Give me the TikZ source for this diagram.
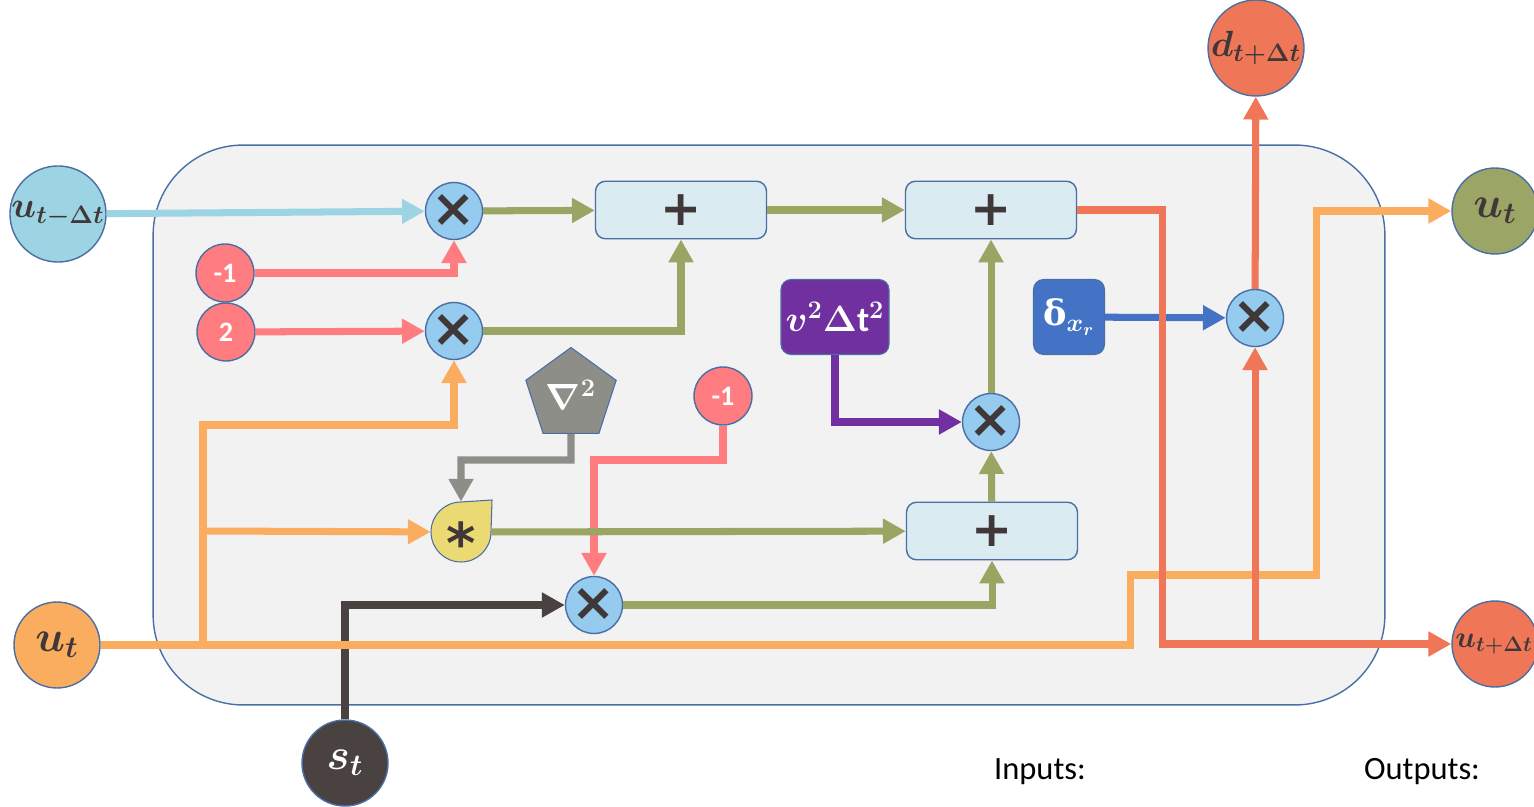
\documentclass[tikz,border=0pt]{standalone}
\usepackage{fontspec}
\setmainfont{Carlito}
\newfontfamily\symfont{DejaVu Sans}
\newfontfamily\greekserif{DejaVu Serif}
\usepackage{amsmath,bm}
\usetikzlibrary{arrows.meta,shapes.geometric,calc}

\definecolor{panelfill}{HTML}{F2F2F2}
\definecolor{edge}{HTML}{4A6FA5}
\definecolor{ink}{HTML}{403838}
\definecolor{inblue}{HTML}{9DD4E3}
\definecolor{constpink}{HTML}{FF7C80}
\definecolor{multblue}{HTML}{95CBEE}
\definecolor{sumfill}{HTML}{DAEBF2}
\definecolor{olive}{HTML}{9BA563}
\definecolor{coral}{HTML}{EF7757}
\definecolor{orng}{HTML}{FBAD5F}
\definecolor{lapgray}{HTML}{8E8E88}
\definecolor{convyellow}{HTML}{EBDA73}
\definecolor{darksrc}{HTML}{4A4141}
\definecolor{velpurple}{HTML}{7030A0}
\definecolor{deltablue}{HTML}{4472C4}
\definecolor{outgreen}{HTML}{9BA565}

\tikzset{
  wire/.style={line width=4pt, -{Triangle[length=13pt,width=13.5pt]}},
  io/.style={circle, draw=edge, line width=0.8pt, minimum size=1.72cm, inner sep=0pt,
    text=ink, font=\fontsize{20}{20}\selectfont},
  bigio/.style={io, font=\fontsize{25}{25}\selectfont},
  mult/.style={circle, draw=edge, line width=0.8pt, fill=multblue, minimum size=1.14cm,
    inner sep=0pt, text=ink, font=\symfont\bfseries\fontsize{30}{30}\selectfont},
  const/.style={circle, draw=edge, line width=0.8pt, fill=constpink, minimum size=1.16cm,
    inner sep=0pt, text=white, font=\bfseries\fontsize{16}{16}\selectfont},
  sumbox/.style={rectangle, rounded corners=0.2cm, draw=edge, line width=0.8pt, fill=sumfill,
    minimum width=3.42cm, minimum height=1.15cm, inner sep=0pt, text=ink,
    font=\symfont\bfseries\fontsize{28}{28}\selectfont},
  parbox/.style={rectangle, rounded corners=0.2cm, draw=edge, line width=0.6pt,
    minimum height=1.5cm, inner sep=0pt, text=white, font=\fontsize{20}{20}\selectfont},
  caption/.style={font=\fontsize{18.5}{18.5}\selectfont, text=black, inner sep=0pt}
}

\begin{document}
\begin{tikzpicture}[x=0.02cm, y=-0.02cm]
\path[use as bounding box, clip] (0,0) rectangle (1534,807);

% cell body
\node[draw=edge, line width=0.8pt, fill=panelfill, rounded corners=1.8cm,
      minimum width=24.64cm, minimum height=11.2cm, inner sep=0pt] (panel) at (769,425) {};

% inputs and outputs
\node[io, fill=inblue] (uprev) at (58,214) {$\bm{u_{t-\Delta t}}$};
\node[bigio, fill=orng] (ucur) at (57,645) {$\bm{u_{t}}$};
\node[bigio, fill=darksrc, text=white] (src) at (345,763) {$\bm{s_{t}}$};
\node[io, fill=coral] (dout) at (1256,48) {$\bm{d_{t+\Delta t}}$};
\node[bigio, fill=outgreen] (uright) at (1495,211) {$\bm{u_{t}}$};
\node[io, fill=coral] (unext) at (1495,644) {};
\node[text=ink, font=\fontsize{18}{18}\selectfont, inner sep=0pt, anchor=east]
  (unexttxt) at (1533,644) {$\bm{u_{t+\Delta t}}$};

% constants
\node[const] (c1) at (225,273) {-1};
\node[const] (c2) at (226,332) {2};
\node[const] (c3) at (723,396) {-1};

% multipliers
\node[mult] (m1) at (454,211) {×};
\node[mult] (m2) at (454,331) {×};
\node[mult] (m3) at (594,605) {×};
\node[mult] (m4) at (991,422) {×};
\node[mult] (m5) at (1255,318) {×};

% adders
\node[sumbox] (p1) at (681,210) {+};
\node[sumbox] (p2) at (991,210) {+};
\node[sumbox] (p3) at (992,531) {+};

% Laplacian operator
\node[regular polygon, regular polygon sides=5, draw=edge, line width=0.6pt, fill=lapgray,
      minimum size=1.9cm, inner sep=0pt, text=white, font=\fontsize{21}{21}\selectfont]
      (lap) at (571,395) {$\bm{\nabla^{2}}$};

% convolution (teardrop)
\node[circle, minimum size=1.2cm, inner sep=0pt] (conv) at (461,532) {};
\draw[draw=edge, line width=0.6pt, fill=convyellow]
  ($(conv.center)+(0,0.6cm)$) -- ++(0.62cm,0.04cm) -- ($(conv.center)+(0.6cm,0)$)
  arc[start angle=0, end angle=-270, radius=0.6cm] -- cycle;
\node[text=ink, font=\symfont\bfseries\fontsize{32}{32}\selectfont, inner sep=0pt]
  (convsym) at ($(conv.center)+(0,-0.22cm)$) {*};

% parameter boxes
\node[parbox, fill=velpurple, minimum width=2.16cm] (vel) at (835,317) {$\bm{v^{2}\Delta\mathrm{t}^{2}}$};
\node[parbox, fill=deltablue, minimum width=1.42cm] (delta) at (1069,317)
  {{\greekserif\bfseries δ}$\bm{_{x_{r}}}$};

% routing points
\coordinate (k1) at (1162,210);
\coordinate (j1) at (1255,644);
\coordinate (o1) at (1130,645);
\coordinate (o2) at (1316,575);
\coordinate (b1) at (203,645);
\coordinate (b2) at (203,425);
\coordinate (b3) at (203,531);
\coordinate (g1) at (571,460);
\coordinate (r1) at (723,460);
\coordinate (s1) at (345,605);

% connectors
\draw[wire, inblue] (uprev) -- (m1);
\draw[wire, constpink] (c1) -| (m1);
\draw[wire, constpink] (c2) -- (m2);
\draw[wire, olive] (m1) -- (p1);
\draw[wire, olive] (m2) -| (p1);
\draw[wire, olive] (p1) -- (p2);
\draw[wire, lapgray] (lap.south) -- (g1) -| (conv);
\draw[wire, constpink] (c3) -- (r1) -| (m3);
\draw[wire, olive] (conv) -- (p3);
\draw[wire, darksrc] (src) -- (s1) -- (m3);
\draw[wire, olive] (m3) -| (p3);
\draw[wire, olive] (p3) -- (m4);
\draw[wire, velpurple] (vel) |- (m4);
\draw[wire, olive] (m4) -- (p2);
\draw[wire, deltablue] (delta) -- (m5);
\draw[wire, orng] (ucur) -- (o1) |- (o2) |- (uright);
\draw[wire, orng] (b1) -- (b2) -| (m2);
\draw[wire, orng] (b3) -- (conv);
\draw[wire, coral] (p2) -- (k1) |- (unext);
\draw[wire, coral] (j1) -- (m5);
\draw[wire, coral] (m5) -- (dout);

% legend captions
\node[caption] (inlbl) at (1040,772) {Inputs:};
\node[caption] (outlbl) at (1422,772) {Outputs:};
\end{tikzpicture}
\end{document}
